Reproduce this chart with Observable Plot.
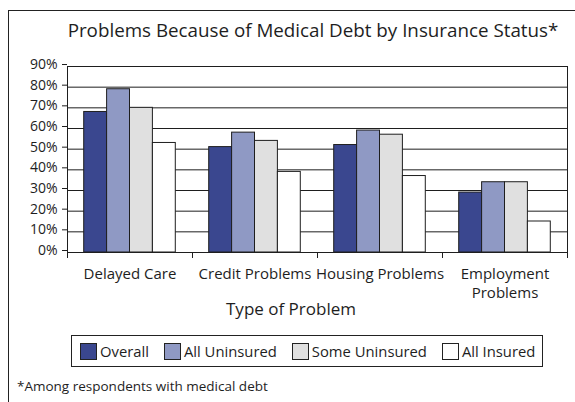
<!DOCTYPE html>
<html>
<head>
<meta charset="utf-8">
<script src="https://cdn.jsdelivr.net/npm/d3@7"></script>
<script src="https://cdn.jsdelivr.net/npm/@observablehq/plot@0.6"></script>
<style>
  body { margin: 0; background: #fff; }
  #wrap { position: relative; width: 575px; height: 402px; overflow: hidden; font-family: "Open Sans", sans-serif; color: #1e1e1e; }
  #outer { position: absolute; left: 8px; top: 10px; width: 600px; height: 420px; border-left: 1.5px solid #222; border-top: 1.5px solid #222; }
  #chart { position: absolute; left: 0; top: 0; }
  .title { position: absolute; left: 63px; width: 500px; top: 21px; text-align: center; font-size: 18.8px; line-height: 1; white-space: nowrap; }
  .xlabel { position: absolute; left: 191px; width: 200px; top: 300px; text-align: center; font-size: 17px; line-height: 1; }
  .legend { position: absolute; left: 71px; top: 335px; width: 472px; height: 32px; box-sizing: border-box; border: 1px solid #222; display: flex; align-items: center; padding-left: 8px; font-size: 14.8px; white-space: nowrap; }
  .legend .item { display: flex; align-items: center; margin-right: 15px; flex-shrink: 0; }
  .legend .sw { width: 17px; height: 17px; box-sizing: border-box; border: 1px solid #222; margin-right: 3px; flex-shrink: 0; }
  .note { position: absolute; left: 17px; top: 380px; font-size: 13.5px; line-height: 1; white-space: nowrap; }
</style>
</head>
<body>
<div id="wrap">
  <div id="outer"></div>
  <div id="chart"></div>
  <div class="title" id="title"></div>
  <div class="xlabel" id="xlabel"></div>
  <div class="legend" id="legend"></div>
  <div class="note" id="note"></div>
</div>
<script>
const titleText = "Problems Because of Medical Debt by Insurance Status*";
const xTitle = "Type of Problem";
const footnote = "*Among respondents with medical debt";

const categories = ["Delayed Care", "Credit Problems", "Housing Problems", "Employment Problems"];
const categoryLabels = ["Delayed Care", "Credit Problems", "Housing Problems", "Employment\nProblems"];
const seriesNames = ["Overall", "All Uninsured", "Some Uninsured", "All Insured"];
const seriesColors = ["#3a478f", "#8f99c4", "#e0e0e0", "#ffffff"];

const overall       = [68, 51, 52, 29];
const allUninsured  = [79, 58, 59, 34];
const someUninsured = [70, 54, 57, 34];
const allInsured    = [53, 39, 37, 15];

const yTicks = [0, 10, 20, 30, 40, 50, 60, 70, 80, 90];

const seriesValues = [overall, allUninsured, someUninsured, allInsured];
const data = categories.flatMap((c, i) =>
  seriesNames.map((s, j) => ({category: c, series: s, value: seriesValues[j][i]}))
);

const W = 575, H = 320, mT = 66, mB = 68, mL = 67, mR = 8;
const plotH = H - mT - mB;
const ink = "#1e1e1e";

const chart = Plot.plot({
  width: W, height: H,
  marginTop: mT, marginBottom: mB, marginLeft: mL, marginRight: mR,
  style: {fontFamily: '"Open Sans", sans-serif', color: ink, background: "transparent", overflow: "visible"},
  fx: {domain: categories, padding: 0, round: false},
  x: {domain: seriesNames, paddingInner: 0, paddingOuter: 0.73, round: false, axis: null},
  y: {domain: [0, 90]},
  color: {domain: seriesNames, range: seriesColors},
  marks: [
    Plot.gridY(yTicks, {stroke: ink, strokeOpacity: 1, strokeWidth: 1}),
    Plot.barY(data, {fx: "category", x: "series", y: "value", fill: "series", stroke: ink, strokeWidth: 1}),
    Plot.frame({facet: "super", stroke: ink}),
    Plot.frame({anchor: "left", insetTop: plotH, insetBottom: -5, stroke: ink}),
    Plot.frame({anchor: "right", insetTop: plotH, insetBottom: -5, stroke: ink}),
    Plot.axisY(yTicks, {tickFormat: d => d + "%", tickSize: 5, tickPadding: 5, fontSize: 14, dy: -2, label: null}),
    Plot.axisFx({anchor: "bottom", tickSize: 0, tickPadding: 13, fontSize: 15, lineHeight: 1.25,
      tickFormat: d => categoryLabels[categories.indexOf(d)], label: null})
  ]
});
document.getElementById("chart").appendChild(chart);

document.getElementById("title").textContent = titleText;
document.getElementById("xlabel").textContent = xTitle;
document.getElementById("note").textContent = footnote;

const legend = d3.select("#legend");
seriesNames.forEach((s, i) => {
  const item = legend.append("div").attr("class", "item");
  item.append("div").attr("class", "sw").style("background", seriesColors[i]);
  item.append("span").text(s);
});
</script>
</body>
</html>
